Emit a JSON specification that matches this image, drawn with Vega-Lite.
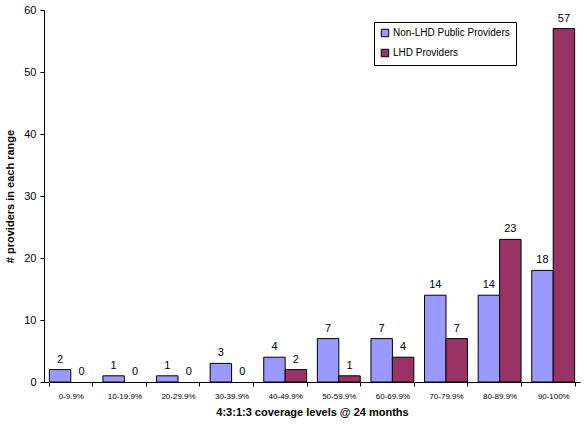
{
  "$schema": "https://vega.github.io/schema/vega-lite/v6.json",
  "width": 536,
  "height": 372,
  "autosize": {"type": "none"},
  "padding": {"left": 44, "top": 10, "right": 7, "bottom": 42},
  "background": "white",
  "config": {
    "font": "Liberation Sans",
    "view": {"stroke": null},
    "axis": {"domainColor": "black", "tickColor": "black", "labelColor": "black", "titleColor": "black", "grid": false}
  },
  "data": {
    "values": [
      {"range": "0-9.9%", "group": "Non-LHD Public Providers", "count": 2},
      {"range": "0-9.9%", "group": "LHD Providers", "count": 0},
      {"range": "10-19.9%", "group": "Non-LHD Public Providers", "count": 1},
      {"range": "10-19.9%", "group": "LHD Providers", "count": 0},
      {"range": "20-29.9%", "group": "Non-LHD Public Providers", "count": 1},
      {"range": "20-29.9%", "group": "LHD Providers", "count": 0},
      {"range": "30-39.9%", "group": "Non-LHD Public Providers", "count": 3},
      {"range": "30-39.9%", "group": "LHD Providers", "count": 0},
      {"range": "40-49.9%", "group": "Non-LHD Public Providers", "count": 4},
      {"range": "40-49.9%", "group": "LHD Providers", "count": 2},
      {"range": "50-59.9%", "group": "Non-LHD Public Providers", "count": 7},
      {"range": "50-59.9%", "group": "LHD Providers", "count": 1},
      {"range": "60-69.9%", "group": "Non-LHD Public Providers", "count": 7},
      {"range": "60-69.9%", "group": "LHD Providers", "count": 4},
      {"range": "70-79.9%", "group": "Non-LHD Public Providers", "count": 14},
      {"range": "70-79.9%", "group": "LHD Providers", "count": 7},
      {"range": "80-89.9%", "group": "Non-LHD Public Providers", "count": 14},
      {"range": "80-89.9%", "group": "LHD Providers", "count": 23},
      {"range": "90-100%", "group": "Non-LHD Public Providers", "count": 18},
      {"range": "90-100%", "group": "LHD Providers", "count": 57}
    ]
  },
  "encoding": {
    "x": {
      "field": "range",
      "type": "nominal",
      "sort": null,
      "scale": {"paddingInner": 0.2, "paddingOuter": 0.1},
      "axis": {
        "title": "4:3:1:3 coverage levels @ 24 months",
        "titleFontSize": 11,
        "titleFontWeight": "bold",
        "titlePadding": 6,
        "labelAngle": 0,
        "labelFontSize": 8,
        "labelPadding": 6,
        "tickBand": "extent",
        "tickSize": 4,
        "domainWidth": 1
      }
    },
    "xOffset": {"field": "group", "type": "nominal", "sort": ["Non-LHD Public Providers", "LHD Providers"], "scale": {"paddingInner": 0}},
    "y": {
      "field": "count",
      "type": "quantitative",
      "scale": {"domain": [0, 60], "nice": false},
      "axis": {
        "title": "# providers in each range",
        "titleFontSize": 11,
        "titleFontWeight": "bold",
        "titlePadding": 8,
        "values": [0, 10, 20, 30, 40, 50, 60],
        "labelFontSize": 11,
        "tickSize": 4,
        "labelPadding": 4
      }
    }
  },
  "layer": [
    {
      "transform": [{"filter": "datum.count > 0"}],
      "mark": {"type": "bar", "stroke": "black", "strokeWidth": 1},
      "encoding": {
        "color": {
          "field": "group",
          "type": "nominal",
          "scale": {"domain": ["Non-LHD Public Providers", "LHD Providers"], "range": ["#9999FF", "#993366"]},
          "legend": {
            "title": null,
            "orient": "none",
            "legendX": 330,
            "legendY": 12,
            "symbolType": "square",
            "symbolSize": 56,
            "symbolStrokeColor": "black",
            "symbolStrokeWidth": 1,
            "symbolOpacity": 1,
            "labelFontSize": 10,
            "labelColor": "black",
            "labelOffset": 3,
            "rowPadding": 8,
            "padding": 6,
            "strokeColor": "black",
            "fillColor": "white",
            "labelLimit": 200
          }
        }
      }
    },
    {
      "mark": {"type": "text", "baseline": "bottom", "dy": -5, "fontSize": 11, "color": "black"},
      "encoding": {"text": {"field": "count", "type": "quantitative"}}
    }
  ]
}
